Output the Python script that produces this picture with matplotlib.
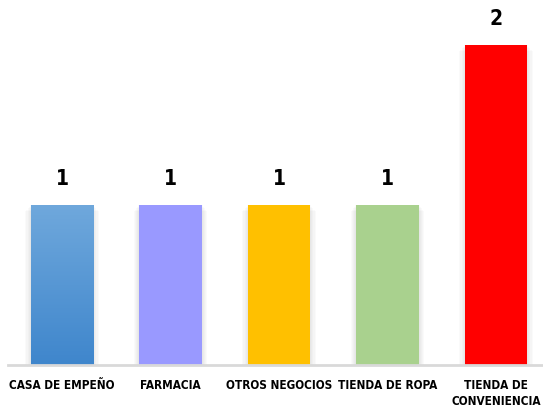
import numpy as np
import matplotlib.pyplot as plt
from matplotlib.patches import Rectangle
from matplotlib.colors import LinearSegmentedColormap

plt.rcParams['font.family'] = ['DejaVu Sans']

categories = ['CASA DE EMPEÑO', 'FARMACIA', 'OTROS NEGOCIOS', 'TIENDA DE ROPA', 'TIENDA DE\nCONVENIENCIA']
values = [1, 1, 1, 1, 2]
colors = ['#4A8CD0', '#9999FF', '#FFC000', '#A9D18E', '#FF0000']

W, H = 543, 405
fig = plt.figure(figsize=(W / 100, H / 100), dpi=100)
ax = fig.add_axes([7.75 / W, 40 / H, 542.5 / W, 352 / H])

x = np.arange(len(values))
bw = 0.575

# soft shadows
for xi, v in zip(x, values):
    for k in range(5):
        pad = 0.01 * (k + 1)
        ax.add_patch(Rectangle((xi - bw / 2 - pad, 0), bw + 2 * pad, v - 0.01 * k,
                               facecolor='black', alpha=0.018, lw=0, zorder=1))

bars = ax.bar(x, values, width=bw, color=colors, zorder=2)

# gradient on the first bar
b0 = bars[0]
grad = np.linspace(0, 1, 256).reshape(-1, 1)
cmap = LinearSegmentedColormap.from_list('g', ['#3F86CC', '#6FA8DC'])
im = ax.imshow(grad, cmap=cmap, aspect='auto', origin='lower',
               extent=[b0.get_x(), b0.get_x() + bw, 0, values[0]], zorder=3)
im.set_clip_path(b0)

for xi, v in zip(x, values):
    ax.text(xi, v + 0.1, str(v), ha='center', va='bottom', fontsize=15,
            fontweight='heavy', fontstretch='condensed', color='black')

ax.set_xlim(-0.5, len(values) - 0.5)
ax.set_ylim(0, 2.2)
ax.set_xticks(x)
ax.set_xticklabels(categories, fontsize=8.5, fontweight='heavy', fontstretch='condensed',
                   linespacing=1.3)
ax.tick_params(axis='x', length=0, pad=10)
ax.set_yticks([])
for s in ['top', 'right', 'left']:
    ax.spines[s].set_visible(False)
ax.spines['bottom'].set_color('#D9D9D9')
ax.spines['bottom'].set_linewidth(2)
ax.spines['bottom'].set_zorder(5)

fig.savefig('out.png', dpi=100)
